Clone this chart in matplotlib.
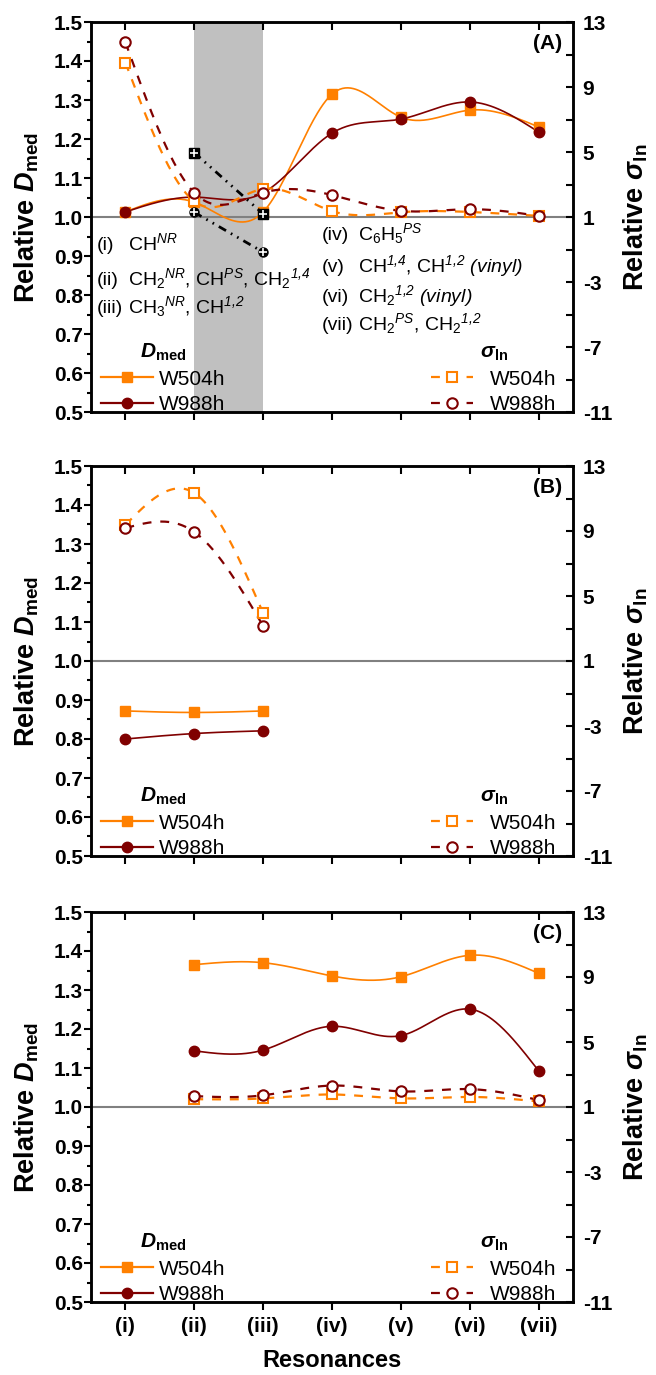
import numpy as np
import matplotlib.pyplot as plt
from matplotlib.lines import Line2D

plt.rcParams['font.family'] = ['Liberation Sans', 'DejaVu Sans']
plt.rcParams['mathtext.fontset'] = 'custom'
plt.rcParams['mathtext.rm'] = 'Liberation Sans'
plt.rcParams['mathtext.it'] = 'Liberation Sans:italic'
plt.rcParams['mathtext.sf'] = 'Liberation Sans:italic'  # italic digits too
plt.rcParams['mathtext.bf'] = 'Liberation Sans:bold'
plt.rcParams['mathtext.bfit'] = 'Liberation Sans:bold:italic'

ORANGE = '#ff8000'
DARKRED = '#800000'

res = ['(i)', '(ii)', '(iii)', '(iv)', '(v)', '(vi)', '(vii)']
pos = [1, 2, 3, 4, 5, 6, 7]

# panel A
a_x = [1, 2, 3, 4, 5, 6, 7]
a_d504 = [1.013, 1.038, 1.013, 1.315, 1.256, 1.274, 1.231]
a_d988 = [1.013, 1.051, 1.062, 1.215, 1.251, 1.295, 1.218]
a_s504 = [10.5, 1.96, 2.73, 1.36, 1.29, 1.31, 1.07]
a_s988 = [11.75, 2.49, 2.49, 2.35, 1.38, 1.48, 1.07]

# panel B
b_x = [1, 2, 3]
b_d504 = [0.872, 0.868, 0.872]
b_d988 = [0.800, 0.814, 0.821]
b_s504 = [9.38, 11.34, 3.95]
b_s988 = [9.18, 8.94, 3.16]

# panel C
c_x = [2, 3, 4, 5, 6, 7]
c_d504 = [1.365, 1.370, 1.336, 1.334, 1.389, 1.343]
c_d988 = [1.144, 1.146, 1.207, 1.183, 1.251, 1.093]
c_s504 = [1.48, 1.53, 1.77, 1.53, 1.62, 1.34]
c_s988 = [1.67, 1.72, 2.32, 1.96, 2.10, 1.43]

# black guide lines in A
guide_x = [2, 3]
guide_sq = [1.165, 1.008]
guide_ci = [1.012, 0.910]

left_notes = [('(i)', 'CH$^{\\mathsf{NR}}$'),
              ('(ii)', 'CH$_2{}^{\\mathsf{NR}}$, CH$^{\\mathsf{PS}}$, CH$_2{}^{\\mathsf{1{,}4}}$'),
              ('(iii)', 'CH$_3{}^{\\mathsf{NR}}$, CH$^{\\mathsf{1{,}2}}$')]
right_notes = [('(iv)', 'C$_6$H$_5{}^{\\mathsf{PS}}$'),
               ('(v)', 'CH$^{\\mathsf{1{,}4}}$, CH$^{\\mathsf{1{,}2}}$ $\\mathsf{(vinyl)}$'),
               ('(vi)', 'CH$_2{}^{\\mathsf{1{,}2}}$ $\\mathsf{(vinyl)}$'),
               ('(vii)', 'CH$_2{}^{\\mathsf{PS}}$, CH$_2{}^{\\mathsf{1{,}2}}$')]


def spline(x, y, n=300):
    # natural cubic spline
    x = np.asarray(x, float)
    y = np.asarray(y, float)
    k = len(x)
    h = np.diff(x)
    A = np.zeros((k, k))
    b = np.zeros(k)
    A[0, 0] = 1
    A[-1, -1] = 1
    for i in range(1, k - 1):
        A[i, i - 1] = h[i - 1]
        A[i, i] = 2 * (h[i - 1] + h[i])
        A[i, i + 1] = h[i]
        b[i] = 6 * ((y[i + 1] - y[i]) / h[i] - (y[i] - y[i - 1]) / h[i - 1])
    M = np.linalg.solve(A, b)
    xs = np.linspace(x[0], x[-1], n)
    idx = np.clip(np.searchsorted(x, xs) - 1, 0, k - 2)
    x0, x1 = x[idx], x[idx + 1]
    hh = x1 - x0
    t0, t1 = xs - x0, x1 - xs
    ys = (M[idx] * t1**3 / (6 * hh) + M[idx + 1] * t0**3 / (6 * hh)
          + (y[idx] / hh - M[idx] * hh / 6) * t1
          + (y[idx + 1] / hh - M[idx + 1] * hh / 6) * t0)
    return xs, ys


FS = 15
NFS = 14
LFS = 19.5
fig = plt.figure(figsize=(6.56, 13.75), dpi=100)
W, H = 656, 1375
L, R = 91, 573
tops = [22, 466, 912]
ph = 390
axes = []
for t in tops:
    ax = fig.add_axes([L / W, 1 - (t + ph) / H, (R - L) / W, ph / H])
    axes.append(ax)


def panel(ax, x, d504, d988, s504, s988, tag, last=False):
    ax2 = ax.twinx()
    ax.set_xlim(0.5, 7.5)
    ax.set_ylim(0.5, 1.5)
    ax2.set_ylim(-11, 13)
    ax.axhline(1.0, color='#808080', lw=1.5, zorder=1)

    xs, ys = spline(x, d504)
    ax.plot(xs, ys, color=ORANGE, lw=1.2, zorder=3)
    ax.plot(x, d504, ls='none', marker='s', ms=7, color=ORANGE, zorder=4)
    xs, ys = spline(x, d988)
    ax.plot(xs, ys, color=DARKRED, lw=1.2, zorder=3)
    ax.plot(x, d988, ls='none', marker='o', ms=7.5, color=DARKRED, zorder=4)

    xs, ys = spline(x, s504)
    ax2.plot(xs, ys, color=ORANGE, lw=1.6, dashes=(4, 4), zorder=3)
    ax2.plot(x, s504, ls='none', marker='s', ms=7, mfc='white', mec=ORANGE, mew=1.5, zorder=4)
    xs, ys = spline(x, s988)
    ax2.plot(xs, ys, color=DARKRED, lw=1.6, dashes=(4, 4), zorder=3)
    ax2.plot(x, s988, ls='none', marker='o', ms=7.5, mfc='white', mec=DARKRED, mew=1.5, zorder=4)

    ax.set_yticks(np.arange(0.5, 1.51, 0.1))
    ax.set_yticks(np.arange(0.55, 1.5, 0.1), minor=True)
    ax.set_yticklabels(['%.1f' % v for v in np.arange(0.5, 1.51, 0.1)],
                       fontsize=FS, fontweight='bold')
    ax2.set_yticks([-11, -7, -3, 1, 5, 9, 13])
    ax2.set_yticks([-9, -5, -1, 3, 7, 11], minor=True)
    ax2.set_yticklabels(['-11', '-7', '-3', '1', '5', '9', '13'],
                        fontsize=FS, fontweight='bold')
    ax.set_xticks(pos)
    if last:
        ax.set_xticklabels(res, fontsize=FS, fontweight='bold')
        ax.set_xlabel('Resonances', fontsize=17, fontweight='bold', labelpad=10)
    else:
        ax.set_xticklabels([])
    ax.tick_params(axis='x', which='major', direction='out', length=6, width=1.5,
                   top=True, pad=4.5)
    ax.tick_params(axis='y', which='major', direction='out', length=5, width=1.5, pad=1)
    ax.tick_params(axis='y', which='minor', direction='out', length=3, width=1.5)
    ax2.tick_params(axis='y', which='major', direction='in', length=5, width=1.5, pad=7)
    ax2.tick_params(axis='y', which='minor', direction='in', length=5, width=1.5)
    # top ticks point into the plot
    for tk in ax.xaxis.get_major_ticks():
        tk.tick2line.set_marker(3)
    for s in ['top', 'bottom', 'left', 'right']:
        ax.spines[s].set_linewidth(1.8)
        ax2.spines[s].set_linewidth(1.8)

    ax.set_ylabel('Relative $\\mathbfit{D}_{\\mathbf{med}}$', fontsize=LFS, fontweight='bold')
    ax.yaxis.set_label_coords(-0.104, 0.5)
    ax2.set_ylabel('Relative $\\mathbfit{\\sigma}_{\\mathbf{ln}}$', fontsize=LFS, fontweight='bold')
    ax2.yaxis.set_label_coords(1.1, 0.5)

    ax.text(0.977, 0.946, tag, transform=ax.transAxes, ha='right', va='center',
            fontsize=FS, fontweight='bold')

    hd = [Line2D([], [], color=ORANGE, lw=1.6, marker='s', ms=7),
          Line2D([], [], color=DARKRED, lw=1.6, marker='o', ms=7.5)]
    ax.legend(hd, ['W504h', 'W988h'], loc='lower left', bbox_to_anchor=(0.02, -0.005),
              frameon=False, fontsize=FS, handlelength=2.5, handletextpad=0.3,
              labelspacing=0.3, borderpad=0, borderaxespad=0,
              title='$\\mathbfit{D}_{\\mathbf{med}}$', title_fontsize=FS)
    hs = [Line2D([], [], color=ORANGE, lw=1.6, dashes=(4, 4), marker='s', ms=7,
                 mfc='white', mec=ORANGE, mew=1.5),
          Line2D([], [], color=DARKRED, lw=1.6, dashes=(4, 4), marker='o', ms=7.5,
                 mfc='white', mec=DARKRED, mew=1.5)]
    ax2.legend(hs, ['W504h', 'W988h'], loc='lower right', bbox_to_anchor=(0.965, -0.005),
               frameon=False, fontsize=FS, handlelength=2.0, handletextpad=0.8,
               labelspacing=0.3, borderpad=0, borderaxespad=0,
               title='$\\mathbfit{\\sigma}_{\\mathbf{ln}}$', title_fontsize=FS)
    return ax2


axA, axB, axC = axes
axA.axvspan(2, 3, color='#c0c0c0', lw=0, zorder=0)
panel(axA, a_x, a_d504, a_d988, a_s504, a_s988, '(A)')
panel(axB, b_x, b_d504, b_d988, b_s504, b_s988, '(B)')
panel(axC, c_x, c_d504, c_d988, c_s504, c_s988, '(C)', last=True)

# dash-dot-dot guides with crossed markers
ddd = (0, (3, 2, 0.6, 2, 0.6, 2))
axA.plot(guide_x, guide_sq, color='black', lw=2, ls=ddd, zorder=5)
axA.plot(guide_x, guide_sq, ls='none', marker='s', ms=6.5, color='black', zorder=6)
axA.plot(guide_x, guide_sq, ls='none', marker='+', ms=5.5, mew=1.2, color='white', zorder=7)
axA.plot(guide_x, guide_ci, color='black', lw=2, ls=ddd, zorder=5)
axA.plot(guide_x, guide_ci, ls='none', marker='o', ms=6.5, color='black', zorder=6)
axA.plot(guide_x, guide_ci, ls='none', marker='+', ms=5.5, mew=1.2, color='white', zorder=7)

left_y = [0.415, 0.326, 0.254]
for (lab, formula), yy in zip(left_notes, left_y):
    axA.text(0.012, yy, lab, transform=axA.transAxes, fontsize=NFS, va='baseline', zorder=8)
    axA.text(0.077, yy, formula, transform=axA.transAxes, fontsize=NFS, va='baseline', zorder=8)
right_y = [0.441, 0.359, 0.282, 0.210]
for (lab, formula), yy in zip(right_notes, right_y):
    axA.text(0.479, yy, lab, transform=axA.transAxes, fontsize=NFS, va='baseline', zorder=8)
    axA.text(0.554, yy, formula, transform=axA.transAxes, fontsize=NFS, va='baseline', zorder=8)

fig.savefig('out.png', dpi=100)
